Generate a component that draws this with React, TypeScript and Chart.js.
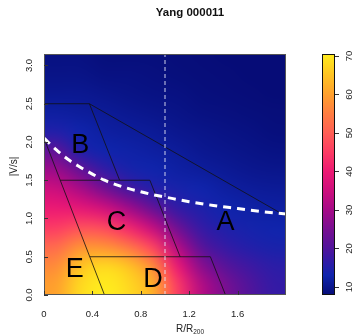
import React, { useEffect, useRef } from "react";
import { Chart, registerables } from "chart.js";
Chart.register(...registerables);

const title = "Yang 000011";
const xMin = 0, xMax = 2.0, yMin = 0, yMax = 3.15;
const zMin = 7.9, zMax = 70.5;
const xTicks = [0, 0.4, 0.8, 1.2, 1.6];
const xTickLabels = ["0", "0.4", "0.8", "1.2", "1.6"];
const yTicks = [0, 0.5, 1.0, 1.5, 2.0, 2.5, 3.0];
const yTickLabels = ["0.0", "0.5", "1.0", "1.5", "2.0", "2.5", "3.0"];
const zTicks = [10, 20, 30, 40, 50, 60, 70];

// heat-map cell centres
const cellX = [0.1, 0.3, 0.5, 0.7, 0.9, 1.1, 1.3, 1.5, 1.7, 1.9];
const cellY = [0.125, 0.375, 0.625, 0.875, 1.125, 1.375, 1.625, 1.875, 2.125, 2.375, 2.625, 2.875, 3.125];
// rows follow cellY (bottom to top), columns follow cellX
const density = [
  [60, 68, 71, 68, 62, 45, 32, 25, 20, 17],
  [57, 65, 68, 65, 57, 40, 27, 21, 18, 16],
  [52, 58, 58, 54, 46, 32, 21, 17, 15, 14],
  [45, 48, 47, 42, 34, 24, 17, 14.5, 13.5, 13],
  [40, 39, 36, 30, 23, 17, 14.5, 13, 12.3, 12],
  [35, 31, 25, 19, 15.5, 14, 13, 12, 11.3, 11],
  [29, 23, 17, 14, 13, 12.2, 11.5, 10.8, 10.3, 10],
  [22, 15, 13, 12.5, 12, 11.3, 10.5, 10, 9.5, 9.2],
  [15, 13, 12, 11.5, 11, 10.3, 9.8, 9.3, 9, 8.6],
  [12, 11.5, 11, 10.5, 10, 9.5, 9, 8.8, 8.5, 8.3],
  [10.5, 10.5, 10, 9.5, 9.2, 9, 8.6, 8.4, 8.2, 8],
  [9.5, 9.5, 9, 9, 8.8, 8.5, 8.3, 8.2, 8, 8],
  [9, 9, 8.5, 8.5, 8.5, 8.3, 8.2, 8, 8, 8],
];

// white dashed escape-velocity curve
const curveX = [0, 0.1, 0.2, 0.3, 0.4, 0.5, 0.6, 0.7, 0.8, 0.9, 1.0, 1.2, 1.4, 1.6, 1.8, 2.0];
const curveY = [2.05, 1.9, 1.77, 1.67, 1.58, 1.5, 1.44, 1.39, 1.35, 1.31, 1.28, 1.22, 1.17, 1.13, 1.09, 1.06];

// vertical reference line R = R200
const refLineX = 1.0;

// region boundary segments
const segX0 = [0, 0, 0.375, 0.375, 0.135, 0.875, 0.38, 1.375];
const segY0 = [2.05, 2.5, 2.5, 2.5, 1.5, 1.5, 0.5, 0.5];
const segX1 = [0.5, 0.375, 0.625, 2.0, 0.875, 1.125, 1.375, 1.5];
const segY1 = [0, 2.5, 1.5, 1.03, 1.5, 0.5, 0.5, 0];

// region labels
const regionNames = ["A", "B", "C", "D", "E"];
const regionX = [1.5, 0.3, 0.6, 0.9, 0.255];
const regionY = [0.96, 1.97, 0.96, 0.22, 0.35];

const stopV = [7.9, 10, 13, 17, 20, 25, 30, 35, 40, 45, 50, 55, 60, 65, 70.5];
const stopC = [
  [6, 12, 118], [10, 22, 140], [16, 36, 172], [52, 26, 165], [80, 20, 155],
  [120, 15, 145], [165, 10, 135], [205, 15, 125], [236, 26, 115], [252, 60, 100],
  [255, 95, 85], [255, 125, 65], [255, 160, 45], [255, 195, 35], [255, 236, 30],
];

function colorFor(v: number): number[] {
  if (v <= stopV[0]) return stopC[0];
  for (let i = 1; i < stopV.length; i++) {
    if (v <= stopV[i]) {
      const t = (v - stopV[i - 1]) / (stopV[i] - stopV[i - 1]);
      const a = stopC[i - 1], b = stopC[i];
      return [0, 1, 2].map((k) => Math.round(a[k] + (b[k] - a[k]) * t));
    }
  }
  return stopC[stopC.length - 1];
}

const FONT = "'Liberation Sans', Arial, Helvetica, sans-serif";

const heatPlugin = {
  id: "heat",
  beforeDatasetsDraw(chart: any) {
    const { ctx, chartArea: a } = chart;
    const xs = chart.scales.x, ys = chart.scales.y;
    const nx = cellX.length, ny = cellY.length;
    const off = document.createElement("canvas");
    off.width = nx; off.height = ny;
    const octx = off.getContext("2d")!;
    const img = octx.createImageData(nx, ny);
    for (let j = 0; j < ny; j++) {
      const r = ny - 1 - j;
      for (let i = 0; i < nx; i++) {
        const c = colorFor(density[j][i]);
        const p = (r * nx + i) * 4;
        img.data[p] = c[0]; img.data[p + 1] = c[1]; img.data[p + 2] = c[2]; img.data[p + 3] = 255;
      }
    }
    octx.putImageData(img, 0, 0);
    const dx = cellX[1] - cellX[0], dy = cellY[1] - cellY[0];
    const x0 = xs.getPixelForValue(cellX[0] - dx / 2);
    const x1 = xs.getPixelForValue(cellX[nx - 1] + dx / 2);
    const yT = ys.getPixelForValue(cellY[ny - 1] + dy / 2);
    const yB = ys.getPixelForValue(cellY[0] - dy / 2);
    ctx.save();
    ctx.beginPath();
    ctx.rect(a.left, a.top, a.right - a.left, a.bottom - a.top);
    ctx.clip();
    ctx.imageSmoothingEnabled = true;
    ctx.imageSmoothingQuality = "high";
    ctx.drawImage(off, x0, yT, x1 - x0, yB - yT);
    ctx.restore();
  },
};

const decorPlugin = {
  id: "decor",
  afterDraw(chart: any) {
    const { ctx, chartArea: a } = chart;
    const xs = chart.scales.x, ys = chart.scales.y, zs = chart.scales.z;
    ctx.save();
    // region letters
    ctx.fillStyle = "#000";
    ctx.font = `27px ${FONT}`;
    ctx.textAlign = "center";
    ctx.textBaseline = "middle";
    regionNames.forEach((n, i) => {
      ctx.fillText(n, xs.getPixelForValue(regionX[i]), ys.getPixelForValue(regionY[i]) + 1);
    });
    // border
    ctx.strokeStyle = "#555";
    ctx.lineWidth = 1;
    ctx.strokeRect(Math.round(a.left) + 0.5, Math.round(a.top) + 0.5, Math.round(a.right - a.left) - 1, Math.round(a.bottom - a.top) - 1);
    // ticks inside
    ctx.strokeStyle = "#333";
    ctx.beginPath();
    xTicks.forEach((v) => {
      const px = Math.round(xs.getPixelForValue(v)) + 0.5;
      ctx.moveTo(px, a.bottom); ctx.lineTo(px, a.bottom - 4);
    });
    yTicks.forEach((v) => {
      const py = Math.round(ys.getPixelForValue(v)) + 0.5;
      ctx.moveTo(a.left, py); ctx.lineTo(a.left + 4, py);
    });
    ctx.stroke();
    // tick labels
    ctx.fillStyle = "#222";
    ctx.font = `9.5px ${FONT}`;
    ctx.textAlign = "center";
    ctx.textBaseline = "middle";
    xTicks.forEach((v, i) => {
      ctx.fillText(xTickLabels[i], xs.getPixelForValue(v), a.bottom + 19);
    });
    yTicks.forEach((v, i) => {
      ctx.save();
      ctx.translate(a.left - 15, ys.getPixelForValue(v));
      ctx.rotate(-Math.PI / 2);
      ctx.fillText(yTickLabels[i], 0, 0);
      ctx.restore();
    });
    // y title
    ctx.save();
    ctx.font = `10px ${FONT}`;
    ctx.translate(a.left - 30, (a.top + a.bottom) / 2 - 8);
    ctx.rotate(-Math.PI / 2);
    ctx.fillText("|V/s|", 0, 0);
    ctx.restore();
    // x title with subscript
    const cx = 190;
    ctx.font = `10px ${FONT}`;
    const w1 = ctx.measureText("R/R").width;
    ctx.font = `6.5px ${FONT}`;
    const w2 = ctx.measureText("200").width;
    const sx = cx - (w1 + w2) / 2;
    ctx.textAlign = "left";
    ctx.font = `10px ${FONT}`;
    ctx.fillText("R/R", sx, a.bottom + 34);
    ctx.font = `6.5px ${FONT}`;
    ctx.fillText("200", sx + w1, a.bottom + 37);
    // title
    ctx.textAlign = "center";
    ctx.fillStyle = "#111";
    ctx.font = `bold 11.5px ${FONT}`;
    ctx.fillText(title, 190, 13);
    // colorbar
    const bl = a.right + 36, br = a.right + 49;
    const top = Math.round(zs.getPixelForValue(zMax)), bot = Math.round(zs.getPixelForValue(zMin));
    for (let py = top; py < bot; py++) {
      const c = colorFor(zs.getValueForPixel(py + 0.5));
      ctx.fillStyle = `rgb(${c[0]},${c[1]},${c[2]})`;
      ctx.fillRect(bl, py, br - bl, 1);
    }
    ctx.strokeStyle = "#111";
    ctx.strokeRect(bl + 0.5, top + 0.5, br - bl - 1, bot - top - 1);
    ctx.strokeStyle = "#333";
    ctx.beginPath();
    zTicks.forEach((v) => {
      const py = Math.round(zs.getPixelForValue(v)) + 0.5;
      ctx.moveTo(br, py); ctx.lineTo(br + 4, py);
    });
    ctx.stroke();
    ctx.fillStyle = "#222";
    ctx.font = `9.5px ${FONT}`;
    ctx.textAlign = "center";
    zTicks.forEach((v) => {
      ctx.save();
      ctx.translate(br + 14, zs.getPixelForValue(v));
      ctx.rotate(-Math.PI / 2);
      ctx.fillText(String(v), 0, 0);
      ctx.restore();
    });
    ctx.restore();
  },
};

export default function App() {
  const ref = useRef<HTMLCanvasElement>(null);
  useEffect(() => {
    if (!ref.current) return;
    const datasets: any[] = [];
    datasets.push({
      data: curveX.map((x, i) => ({ x, y: curveY[i] })),
      showLine: true,
      borderColor: "#ffffff",
      borderWidth: 3,
      borderDash: [8, 6],
      pointRadius: 0,
      cubicInterpolationMode: "monotone",
    });
    datasets.push({
      data: [{ x: refLineX, y: yMin }, { x: refLineX, y: yMax }],
      showLine: true,
      borderColor: "rgba(228,228,245,0.9)",
      borderWidth: 1,
      borderDash: [4, 3],
      pointRadius: 0,
    });
    segX0.forEach((x0, i) => {
      datasets.push({
        data: [{ x: x0, y: segY0[i] }, { x: segX1[i], y: segY1[i] }],
        showLine: true,
        borderColor: "#111111",
        borderWidth: 0.8,
        pointRadius: 0,
      });
    });
    const chart = new Chart(ref.current, {
      type: "scatter",
      data: { datasets },
      options: {
        animation: false,
        responsive: false,
        events: [],
        layout: { padding: { left: 44, right: 72, top: 54, bottom: 40 } },
        plugins: { legend: { display: false }, tooltip: { enabled: false }, title: { display: false } },
        scales: {
          x: { type: "linear", min: xMin, max: xMax, display: false },
          y: { type: "linear", min: yMin, max: yMax, display: false },
          z: { type: "linear", axis: "y", min: zMin, max: zMax, display: false },
        },
      },
      plugins: [heatPlugin, decorPlugin],
    });
    return () => chart.destroy();
  }, []);
  return (
    <div style={{ position: "absolute", left: 0, top: 0, width: 358, height: 335, background: "#fff" }}>
      <canvas ref={ref} width={358} height={335} style={{ display: "block" }} />
    </div>
  );
}
